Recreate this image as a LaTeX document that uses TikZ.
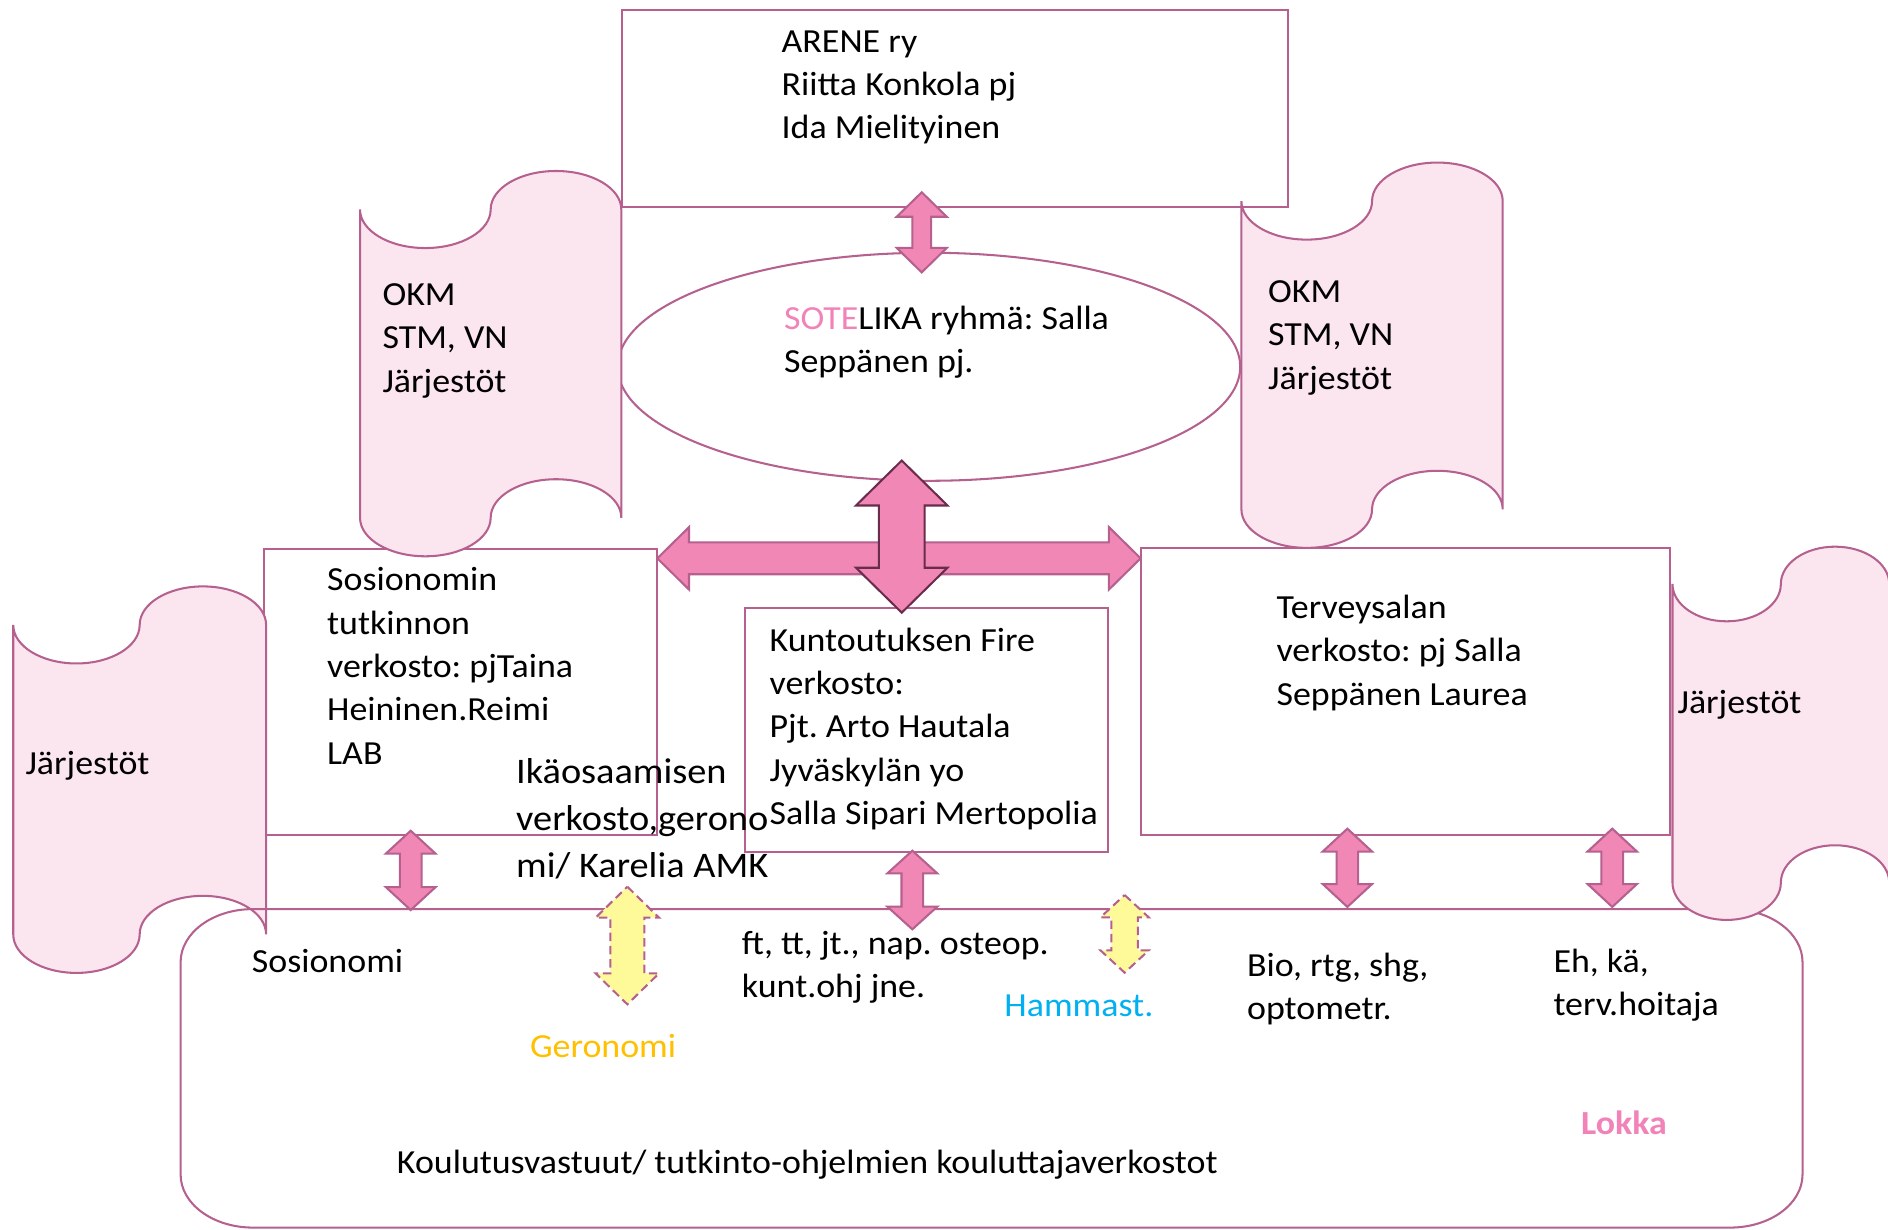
\documentclass[tikz,border=0pt]{standalone}
\usepackage{fontspec}
\setmainfont{Carlito}[FakeStretch=1.065]
\usetikzlibrary{shapes.geometric}
\frenchspacing
\definecolor{bord}{HTML}{B5608E}
\definecolor{scrollfill}{HTML}{FBE5EF}
\definecolor{arrfill}{HTML}{F087B5}
\definecolor{darkbord}{HTML}{6A2C4C}
\definecolor{yelfill}{HTML}{FFFA99}
\definecolor{pinktxt}{HTML}{F283B8}
\definecolor{bluetxt}{HTML}{00B0F0}
\definecolor{goldtxt}{HTML}{FFC000}
\tikzset{
  boxsty/.style={draw=bord, line width=1.7pt, rectangle, inner sep=0pt, anchor=north west},
  scrollsty/.style={draw=bord, fill=scrollfill, line width=1.7pt},
  pinkarrow/.style={draw=bord, fill=arrfill, line width=1.7pt, line join=miter},
  darkarrow/.style={draw=darkbord, fill=arrfill, line width=1.7pt, line join=miter},
  yelarrow/.style={draw=bord, fill=yelfill, line width=1.7pt, dash pattern=on 7pt off 4pt},
  txt/.style={anchor=north west, inner sep=0pt, align=left, font=\fontsize{28}{36}\selectfont\frenchspacing, execute at begin node=\strut},
  bigtxt/.style={anchor=north west, inner sep=0pt, align=left, font=\fontsize{29.9}{38.8}\selectfont\frenchspacing, execute at begin node=\strut},
}
\newcommand{\vscrollshape}[5]{%
  \pgfmathsetmacro\scrRx{(#2-#1)/4}%
  \draw[scrollsty] (#1,#3) -- (#1,#4)
    arc[start angle=180,end angle=0,x radius=\scrRx,y radius=#5]
    arc[start angle=180,end angle=360,x radius=\scrRx,y radius=#5]
    -- (#2,#3)
    arc[start angle=0,end angle=-180,x radius=\scrRx,y radius=#5]
    arc[start angle=0,end angle=180,x radius=\scrRx,y radius=#5] -- cycle;}
% style, cx, top, bottom, head half width, shaft half width, head length
\newcommand{\dblarrowV}[7]{%
  \pgfmathsetmacro\dbXa{#2-#5}\pgfmathsetmacro\dbXb{#2-#6}%
  \pgfmathsetmacro\dbXc{#2+#6}\pgfmathsetmacro\dbXd{#2+#5}%
  \pgfmathsetmacro\dbYa{#3+#7}\pgfmathsetmacro\dbYb{#4-#7}%
  \draw[#1] (#2,#3) -- (\dbXd,\dbYa) -- (\dbXc,\dbYa) -- (\dbXc,\dbYb) -- (\dbXd,\dbYb) -- (#2,#4)
    -- (\dbXa,\dbYb) -- (\dbXb,\dbYb) -- (\dbXb,\dbYa) -- (\dbXa,\dbYa) -- cycle;}
% style, cy, left, right, head half height, shaft half height, head length
\newcommand{\dblarrowH}[7]{%
  \pgfmathsetmacro\dbYa{#2-#5}\pgfmathsetmacro\dbYb{#2-#6}%
  \pgfmathsetmacro\dbYc{#2+#6}\pgfmathsetmacro\dbYd{#2+#5}%
  \pgfmathsetmacro\dbXa{#3+#7}\pgfmathsetmacro\dbXb{#4-#7}%
  \draw[#1] (#3,#2) -- (\dbXa,\dbYa) -- (\dbXa,\dbYb) -- (\dbXb,\dbYb) -- (\dbXb,\dbYa) -- (#4,#2)
    -- (\dbXb,\dbYd) -- (\dbXb,\dbYc) -- (\dbXa,\dbYc) -- (\dbXa,\dbYd) -- cycle;}
\begin{document}
\begin{tikzpicture}[x=1pt,y=-1pt]
\useasboundingbox (0,0) rectangle (1568,1021);
\fill[white] (0,0) rectangle (1568,1021);
% ellipse
\node[draw=bord, line width=1.7pt, ellipse, minimum width=517pt, minimum height=189.4pt, inner sep=0pt] (sote) at (771.5,304.6) {};
% boxes
\node[boxsty, minimum width=553pt, minimum height=163.5pt] (arene) at (516,7.2) {};
\node[boxsty, minimum width=326pt, minimum height=237.5pt] (sosio) at (218.5,455) {};
\node[boxsty, minimum width=301.5pt, minimum height=202.8pt] (kunto) at (617.5,504) {};
\node[boxsty, minimum width=439.5pt, minimum height=238pt] (terve) at (946.5,454.5) {};
% left lower scroll
\vscrollshape{11}{221}{519}{776}{32}
% bottom rounded box
\draw[draw=bord, line width=1.7pt] (210,755) -- (1437,755)
  arc[start angle=270,end angle=360,x radius=60,y radius=44] -- (1497,975.5)
  arc[start angle=0,end angle=90,x radius=60,y radius=44] -- (210,1019.5)
  arc[start angle=90,end angle=180,x radius=60,y radius=44] -- (150,799)
  arc[start angle=180,end angle=270,x radius=60,y radius=44] -- cycle;
% other scrolls
\vscrollshape{299}{516}{174}{430}{32}
\vscrollshape{1031}{1248}{167}{423}{32}
\vscrollshape{1389}{1569}{485}{733}{31}
% arrows
\dblarrowH{pinkarrow}{463.7}{545.9}{947.3}{25.9}{13.2}{26.3}
\dblarrowV{darkarrow}{748.9}{382.5}{508.8}{38}{19}{37.3}
\dblarrowV{pinkarrow}{765.5}{159.7}{226.2}{20.8}{7.8}{20.3}
\dblarrowV{pinkarrow}{341.1}{689.9}{755.8}{20.6}{9}{19}
\dblarrowV{pinkarrow}{757.7}{706.5}{771.8}{20.7}{9}{18.8}
\dblarrowV{pinkarrow}{1119}{688.2}{753.2}{20.5}{9}{19}
\dblarrowV{pinkarrow}{1339}{688.2}{753.2}{20.5}{9}{19}
\dblarrowV{yelarrow}{521}{736.4}{834.1}{26.3}{14.1}{25.7}
\dblarrowV{yelarrow}{934}{743.3}{807.8}{20}{11}{18.5}
% texts
\node[txt] (tarene) at (649,25.1) {ARENE ry\\Riitta Konkola pj\\Ida Mielityinen};
\node[txt] (tsote) at (651,253.8) {\textcolor{pinktxt}{SOTE}LIKA ryhmä: Salla\\Seppänen pj.};
\node[txt] (tokml) at (317.5,235.3) {OKM\\STM, VN\\Järjestöt};
\node[txt] (tokmr) at (1053,232.7) {OKM\\STM, VN\\Järjestöt};
\node[txt] (tsosio) at (271.5,471.1) {Sosionomin\\tutkinnon\\verkosto: pjTaina\\Heininen.Reimi\\LAB};
\node[txt] (tkunto) at (639,521.2) {Kuntoutuksen Fire\\verkosto:\\Pjt. Arto Hautala\\Jyväskylän yo\\Salla Sipari Mertopolia};
\node[txt] (tterve) at (1060,494) {Terveysalan\\verkosto: pj Salla\\Seppänen Laurea};
\node[txt] (tjarjl) at (21,617.8) {Järjestöt};
\node[txt] (tjarjr) at (1393,567.3) {Järjestöt};
\node[bigtxt] (tika) at (428.5,629.8) {Ikäosaamisen\\verkosto,gerono\\mi/ Karelia AMK};
\node[txt] (tsosnomi) at (209,782.1) {Sosionomi};
\node[txt, text=goldtxt] (tgero) at (440,853) {Geronomi};
\node[txt] (tft) at (616,773.3) {ft, tt, jt., nap. osteop.\\kunt.ohj jne.};
\node[txt, text=bluetxt] (thamm) at (834,818.6) {Hammast.};
\node[txt] (tbio) at (1035.5,791.2) {Bio, rtg, shg,\\optometr.};
\node[txt] (teh) at (1290,787.9) {Eh, kä,\\terv.hoitaja};
\node[txt, text=pinktxt, font=\fontsize{28}{36}\selectfont\bfseries] (tlokka) at (1313,917.2) {Lokka};
\node[txt] (tkoul) at (329.5,948.8) {Koulutusvastuut/ tutkinto-ohjelmien kouluttajaverkostot};
\end{tikzpicture}
\end{document}
